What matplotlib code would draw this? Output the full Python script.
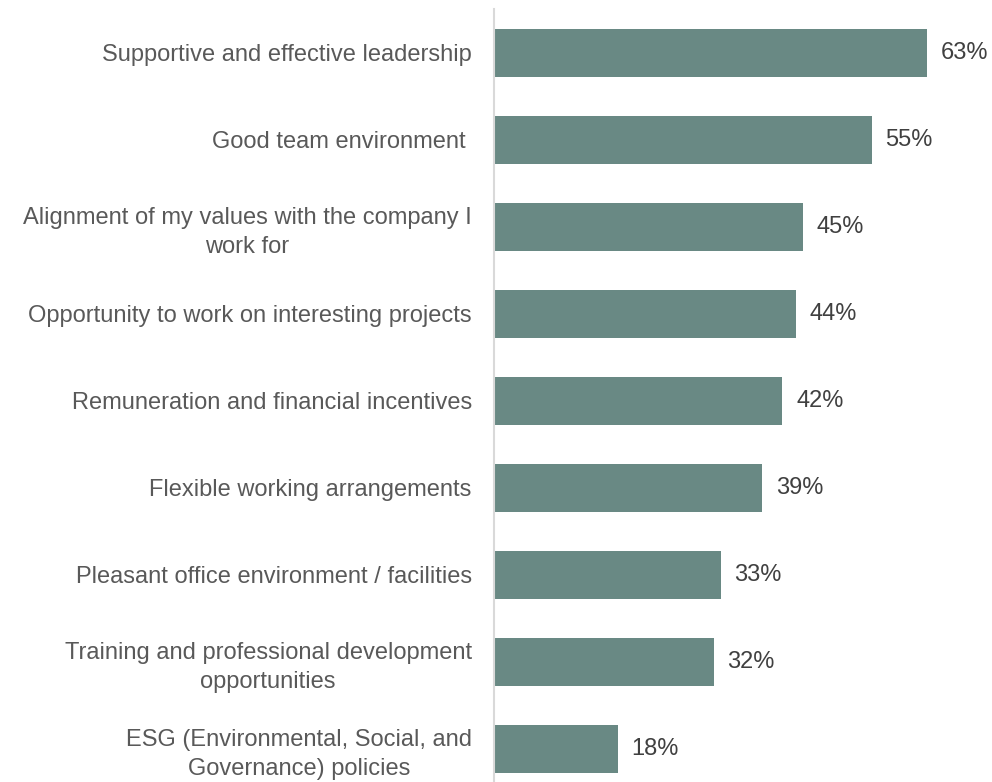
import matplotlib.pyplot as plt

plt.rcParams['font.family'] = ['Liberation Sans', 'DejaVu Sans']

categories = [
    "Supportive and effective leadership",
    "Good team environment ",
    "Alignment of my values with the company I\nwork for",
    "Opportunity to work on interesting projects",
    "Remuneration and financial incentives",
    "Flexible working arrangements",
    "Pleasant office environment / facilities",
    "Training and professional development\nopportunities",
    "ESG (Environmental, Social, and\nGovernance) policies",
]
values = [63, 55, 45, 44, 42, 39, 33, 32, 18]

bar_color = "#698984"
text_color = "#595959"

fig = plt.figure(figsize=(9.92, 7.82), dpi=100)
# axes occupies the right half; labels hang off to the left
ax = fig.add_axes([494 / 992, 0.0, 1 - 494 / 992, 772.5 / 782])

pos = list(range(len(categories)))
ax.barh(pos, values, height=0.55, color=bar_color)

for p, v in zip(pos, values):
    ax.text(v + 2.0, p, f"{v}%", va="center", ha="left",
            fontsize=17, color="#404040")

ax.set_xlim(0, 72.5)
ax.set_ylim(8.38, -0.5)
ax.set_yticks(pos)
ax.set_yticklabels(categories, fontsize=17, color=text_color,
                   multialignment="center", linespacing=1.4)
ax.tick_params(axis="y", length=0, pad=16)
ax.set_xticks([])

for side in ["top", "right", "bottom"]:
    ax.spines[side].set_visible(False)
ax.spines["left"].set_color("#d9d9d9")
ax.spines["left"].set_linewidth(1.5)

fig.savefig("out.png", dpi=100)
